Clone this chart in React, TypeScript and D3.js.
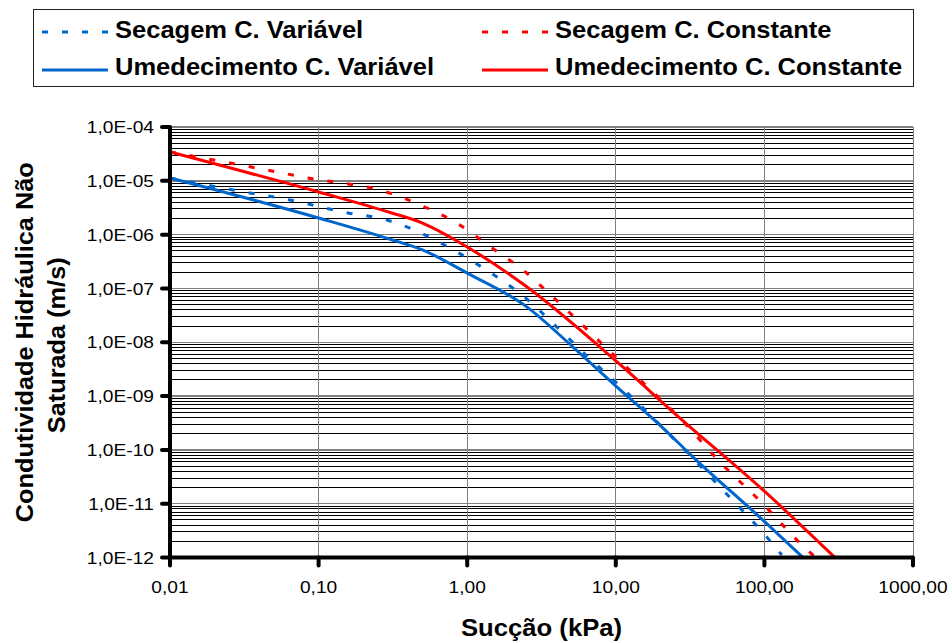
import React from "react";
import * as d3 from "d3";

// ---- Data ----
const xTickValues = [0.01, 0.1, 1, 10, 100, 1000];
const xTickLabels = ["0,01", "0,10", "1,00", "10,00", "100,00", "1000,00"];
const yTickValues = [1e-4, 1e-5, 1e-6, 1e-7, 1e-8, 1e-9, 1e-10, 1e-11, 1e-12];
const yTickLabels = ["1,0E-04", "1,0E-05", "1,0E-06", "1,0E-07", "1,0E-08", "1,0E-09", "1,0E-10", "1,0E-11", "1,0E-12"];

const secVarX = [0.01, 0.0265, 0.0642, 0.158, 0.271, 0.504, 0.766, 1.38, 2.34, 4.21, 6.5, 10.35, 26.2, 52.6, 101, 131];
const secVarY = [1.13e-5, 6.75e-6, 4.4e-6, 2.52e-6, 1.95e-6, 1.03e-6, 5.64e-7, 2.1e-7, 7.54e-8, 1.69e-8, 5.31e-9, 1.67e-9, 1.34e-10, 1.79e-11, 2.61e-12, 1.11e-12];

const secConX = [0.01, 0.0254, 0.085, 0.3, 0.5, 0.87, 1.47, 2.37, 3.78, 7.24, 13.9, 27, 50.3, 96.4, 182, 219];
const secConY = [3.43e-5, 2.14e-5, 1.13e-5, 5.93e-6, 3.4e-6, 1.57e-6, 5.64e-7, 2.2e-7, 6.92e-8, 1.25e-8, 2.25e-9, 3.9e-10, 5.93e-11, 1.03e-11, 1.63e-12, 1.02e-12];

const umeVarX = [0.01, 0.1, 0.3, 0.5, 1.0, 2.53, 5.15, 10.2, 20.8, 33.1, 97.8, 182];
const umeVarY = [1.13e-5, 2.04e-6, 8.3e-7, 5.2e-7, 1.93e-7, 4.5e-8, 8.15e-9, 1.47e-9, 2.54e-10, 7.35e-11, 4.95e-12, 1.0e-12];

const umeConX = [0.01, 0.1, 0.3, 0.5, 1.0, 2.53, 10.2, 27, 97.8, 298];
const umeConY = [3.43e-5, 6.2e-6, 2.6e-6, 1.64e-6, 5.9e-7, 1.06e-7, 4.3e-9, 3.9e-10, 1.8e-11, 1.0e-12];

const seriesNames = ["Secagem C. Variável", "Secagem C. Constante", "Umedecimento C. Variável", "Umedecimento C. Constante"];

const BLUE = "#0066CC";
const RED = "#FF0000";
const FONT = "'Liberation Sans', Arial, sans-serif";

const W = 952;
const H = 643;
const PL = 170, PR = 913, PT = 127, PB = 557.5;

function T({ x, y, sx = 1, size, bold = false, anchor = "start", rotate = 0, children }: any) {
  const tr = `translate(${x},${y})${rotate ? ` rotate(${rotate})` : ""} scale(${sx},1)`;
  return (
    <text
      transform={tr}
      fontFamily={FONT}
      fontSize={size}
      fontWeight={bold ? "bold" : "normal"}
      textAnchor={anchor}
      fill="#000"
    >
      {children}
    </text>
  );
}

export default function App() {
  const x = d3.scaleLog().domain([0.01, 1000]).range([PL, PR]);
  const y = d3.scaleLog().domain([1e-12, 1e-4]).range([PB, PT]);

  const line = d3
    .line<[number, number]>()
    .x((d) => x(d[0]))
    .y((d) => y(d[1]))
    .curve(d3.curveMonotoneX);

  const zip = (xs: number[], ys: number[]) => xs.map((v, i) => [v, ys[i]] as [number, number]);

  const minorY: number[] = [];
  for (let e = -12; e < -4; e++) {
    for (let k = 2; k <= 9; k++) minorY.push(k * Math.pow(10, e));
  }

  const series = [
    { name: seriesNames[0], data: zip(secVarX, secVarY), color: BLUE, dash: "6,14" },
    { name: seriesNames[1], data: zip(secConX, secConY), color: RED, dash: "6,14" },
    { name: seriesNames[2], data: zip(umeVarX, umeVarY), color: BLUE, dash: null },
    { name: seriesNames[3], data: zip(umeConX, umeConY), color: RED, dash: null },
  ];

  const legendPos = [
    { lx: 42, tx: 115, ly: 32, ty: 38 },
    { lx: 482, tx: 555, ly: 32, ty: 38 },
    { lx: 42, tx: 115, ly: 70, ty: 75 },
    { lx: 482, tx: 555, ly: 70, ty: 75 },
  ];

  return (
    <svg width={W} height={H} style={{ position: "absolute", left: 0, top: 0, background: "#fff" }}>
      <rect x={0} y={0} width={W} height={H} fill="#fff" />
      {/* Legend */}
      <rect x={33.5} y={9.5} width={880} height={77} fill="#fff" stroke="#222" strokeWidth={1} />
      {series.map((s, i) => {
        const p = legendPos[i];
        return (
          <g key={s.name}>
            <line
              x1={p.lx}
              x2={p.lx + 66}
              y1={p.ly}
              y2={p.ly}
              stroke={s.color}
              strokeWidth={3}
              strokeDasharray={s.dash ? "6,14" : undefined}
            />
            <T x={p.tx} y={p.ty} size={23} bold sx={1.11}>
              {s.name}
            </T>
          </g>
        );
      })}

      {/* Grid */}
      <g shapeRendering="crispEdges">
        {minorY.map((v, i) => (
          <line key={"m" + i} x1={PL} x2={PR} y1={y(v)} y2={y(v)} stroke="#000" strokeWidth={1} />
        ))}
        {yTickValues.map((v, i) => (
          <line key={"M" + i} x1={PL} x2={PR} y1={y(v)} y2={y(v)} stroke="#808080" strokeWidth={1.5} />
        ))}
        {xTickValues.map((v, i) => (
          <line key={"v" + i} x1={x(v)} x2={x(v)} y1={PT} y2={PB} stroke="#808080" strokeWidth={1} />
        ))}
      </g>

      {/* Curves */}
      {series.map((s) => (
        <path
          key={"c" + s.name}
          d={line(s.data) || ""}
          fill="none"
          stroke={s.color}
          strokeWidth={3}
          strokeDasharray={s.dash || undefined}
        />
      ))}

      {/* Axes */}
      <line x1={PL} x2={PL} y1={PT} y2={PB} stroke="#000" strokeWidth={4} />
      <line x1={PL} x2={PR} y1={PB} y2={PB} stroke="#000" strokeWidth={4} />
      {yTickValues.map((v, i) => (
        <g key={"yt" + i}>
          <line x1={PL - 8} x2={PL} y1={y(v)} y2={y(v)} stroke="#000" strokeWidth={4} strokeLinecap="round" />
          <T x={154} y={y(v) + 6.1} size={17} sx={1.13} anchor="end">
            {yTickLabels[i]}
          </T>
        </g>
      ))}
      {xTickValues.map((v, i) => (
        <g key={"xt" + i}>
          <line x1={x(v)} x2={x(v)} y1={PB} y2={PB + 8} stroke="#000" strokeWidth={4} strokeLinecap="round" />
          <T x={x(v)} y={593} size={17} sx={1.13} anchor="middle">
            {xTickLabels[i]}
          </T>
        </g>
      ))}

      {/* Axis titles */}
      <T x={(PL + PR) / 2} y={636} size={24} bold sx={1.07} anchor="middle">
        Sucção (kPa)
      </T>
      <T x={33} y={(PT + PB) / 2} size={24} bold sx={1.055} anchor="middle" rotate={-90}>
        Condutividade Hidráulica Não
      </T>
      <T x={65} y={(PT + PB) / 2 + 3} size={24} bold sx={1.055} anchor="middle" rotate={-90}>
        Saturada (m/s)
      </T>
    </svg>
  );
}
